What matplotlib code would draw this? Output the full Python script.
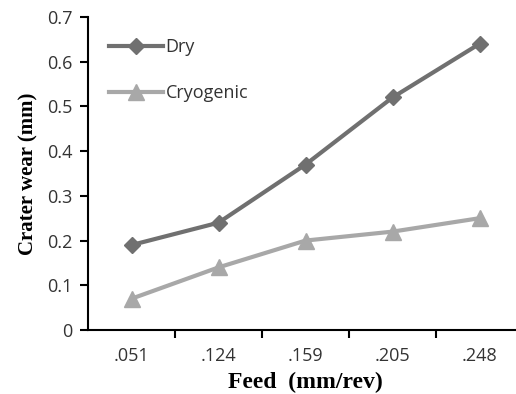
import matplotlib
matplotlib.use("Agg")
from matplotlib import pyplot as plt
import numpy as np

feed_labels = ['.051', '.124', '.159', '.205', '.248']
dry = [0.19, 0.24, 0.37, 0.52, 0.64]
cryogenic = [0.07, 0.14, 0.20, 0.22, 0.25]

fig = plt.figure(figsize=(5.16, 3.94), dpi=100)
# axes runs a little past the right edge like the original
ax = fig.add_axes([88/516, 1 - 330/394, (523 - 88)/516, (330 - 17)/394])

x = np.arange(len(feed_labels))
ax.plot(x, dry, color='#707070', lw=3, marker='D', ms=8, label='Dry')
ax.plot(x, cryogenic, color='#a8a8a8', lw=3, marker='^', ms=11, label='Cryogenic')

ax.set_xlim(-0.5, len(feed_labels) - 0.5)
ax.set_ylim(0, 0.7)
ax.set_yticks(np.arange(0, 0.71, 0.1))
ax.set_yticklabels(['0', '0.1', '0.2', '0.3', '0.4', '0.5', '0.6', '0.7'])
ax.set_xticks(x)
ax.set_xticklabels(feed_labels)
ax.set_xticks(np.arange(0.5, len(feed_labels) - 0.5, 1), minor=True)
ax.tick_params(axis='x', which='major', length=0, pad=12)
ax.tick_params(axis='x', which='minor', length=6, width=1.5, direction='out')
ax.tick_params(axis='y', length=6, width=1.5, direction='out', pad=5)
for lab in ax.get_xticklabels() + ax.get_yticklabels():
    lab.set_fontfamily('Open Sans')
    lab.set_fontsize(13)
    lab.set_color('#333333')

ax.spines['top'].set_visible(False)
ax.spines['right'].set_visible(False)
ax.spines['left'].set_linewidth(1.5)
ax.spines['bottom'].set_linewidth(1.5)

ax.set_xlabel('Feed  (mm/rev)', fontfamily='Liberation Serif', fontweight='bold', fontsize=17, labelpad=5)
ax.set_ylabel('Crater wear (mm)', fontfamily='Liberation Serif', fontweight='bold', fontsize=15, labelpad=6)

leg = ax.legend(loc='upper left', bbox_to_anchor=(0.01, 0.985), frameon=False,
                handlelength=3.0, handletextpad=0.15, labelspacing=1.55,
                prop={'family': 'Open Sans', 'size': 13})
for t in leg.get_texts():
    t.set_color('#333333')

fig.savefig('out.png', dpi=100)
